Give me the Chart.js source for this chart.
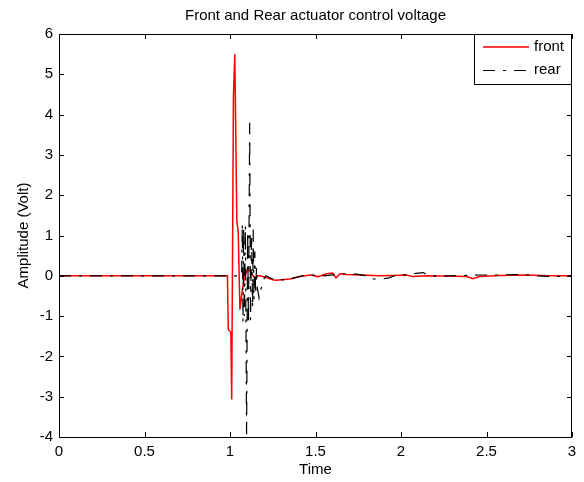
<!DOCTYPE html>
<html>
<head>
<meta charset="utf-8">
<script src="https://cdn.jsdelivr.net/npm/chart.js@4.4.1/dist/chart.umd.min.js"></script>
<style>
  html, body { margin: 0; padding: 0; background: #fff; }
  canvas { display: block; }
</style>
</head>
<body>
<canvas id="chart" width="584" height="482"></canvas>
<script>
// front actuator (red) - time / volts
const frontTime = [0, 0.985, 0.99, 1.005, 1.01, 1.02, 1.028, 1.04, 1.048, 1.058, 1.065, 1.075, 1.09, 1.105, 1.12, 1.135, 1.146, 1.16, 1.175,
  1.215, 1.25, 1.27, 1.35, 1.41, 1.47, 1.515, 1.565, 1.6, 1.62, 1.643, 1.68, 1.76, 1.877, 1.955, 2.03, 2.07, 2.15,
  2.385, 2.42, 2.46, 2.58, 2.735, 2.85, 3.0];
const frontVolt = [0, 0, -1.33, -1.4, -3.07, 4.45, 5.5, 1.35, 1.1, -0.84, -0.6, -0.26, 0.05, 0.16, 0.1, 0.0, -0.06, 0.0, 0.0,
  -0.05, -0.1, -0.11, -0.08, -0.02, 0.02, -0.02, 0.05, 0.07, -0.05, 0.05, 0.03, 0.02, 0.0, 0.01, 0.02, -0.02, 0.0,
  -0.02, -0.07, -0.02, 0.01, 0.02, 0.0, 0.0];

// rear actuator (black dash-dot)
const rearTime = [0, 1.068, 1.072, 1.076, 1.08, 1.084, 1.09, 1.097, 1.103, 1.108, 1.115, 1.12, 1.126, 1.132, 1.136, 1.14, 1.145, 1.15,
  1.155, 1.16, 1.17, 1.18, 1.195, 1.21, 1.25, 1.3, 1.35, 1.42, 1.5, 1.55, 1.66, 1.74, 1.8, 1.84, 1.89, 1.93, 1.96,
  2.03, 2.13, 2.16, 2.3, 2.48, 2.6, 2.7, 2.8, 2.9, 3.0];
const rearVolt = [0, 0, 1.3, -1.15, 1.2, -1.0, 1.25, -3.93, 1.1, -1.2, 3.8, -1.1, 1.0, -0.8, 1.15, -0.6, 0.6, -0.45,
  0.2, -0.3, -0.55, -0.35, -0.1, 0.0, -0.08, -0.1, -0.08, 0.0, 0.02, 0.0, 0.05, 0.04, 0.0, -0.08, -0.08, -0.05, 0.0,
  0.03, 0.08, 0.0, 0.0, 0.02, 0.02, 0.03, 0.0, -0.02, 0.0];

const xTicks = [0, 0.5, 1, 1.5, 2, 2.5, 3];
const yTicks = [-4, -3, -2, -1, 0, 1, 2, 3, 4, 5, 6];

const FONT = 'Arial, "Liberation Sans", sans-serif';
const DASHDOT = [12, 8, 3, 8];

const toPoints = (t, v) => t.map((x, i) => ({ x: x, y: v[i] }));

// matlab style box, inward ticks and legend inside the axes
const matlabAxes = {
  id: 'matlabAxes',
  afterDraw(chart) {
    const ctx = chart.ctx;
    const { left, right, top, bottom } = chart.chartArea;
    const xs = chart.scales.x, ys = chart.scales.y;
    ctx.save();
    ctx.strokeStyle = '#000';
    ctx.lineWidth = 1;
    ctx.strokeRect(Math.round(left) + 0.5, Math.round(top) + 0.5, Math.round(right - left) - 1, Math.round(bottom - top));
    ctx.beginPath();
    xTicks.forEach(v => {
      const px = Math.round(xs.getPixelForValue(v)) + 0.5;
      ctx.moveTo(px, bottom); ctx.lineTo(px, bottom - 5);
      ctx.moveTo(px, top); ctx.lineTo(px, top + 5);
    });
    yTicks.forEach(v => {
      const py = Math.round(ys.getPixelForValue(v)) + 0.5;
      ctx.moveTo(left, py); ctx.lineTo(left + 5, py);
      ctx.moveTo(right, py); ctx.lineTo(right - 5, py);
    });
    ctx.stroke();

    // legend
    const lx = 474.5, ly = 34.5, lw = right - 474 - 1, lh = 50;
    ctx.fillStyle = '#fff';
    ctx.fillRect(lx, ly, lw, lh);
    ctx.strokeStyle = '#000';
    ctx.strokeRect(lx, ly, lw, lh);

    ctx.beginPath();
    ctx.strokeStyle = '#ff0000';
    ctx.lineWidth = 1.5;
    ctx.moveTo(483, 47); ctx.lineTo(529, 47);
    ctx.stroke();

    ctx.beginPath();
    ctx.strokeStyle = '#000';
    ctx.lineWidth = 1.2;
    ctx.setLineDash(DASHDOT);
    ctx.moveTo(483, 70.5); ctx.lineTo(529, 70.5);
    ctx.stroke();
    ctx.setLineDash([]);

    ctx.fillStyle = '#000';
    ctx.font = '15px ' + FONT;
    ctx.textBaseline = 'middle';
    ctx.fillText('front', 534, 47);
    ctx.fillText('rear', 534, 70);
    ctx.restore();
  }
};

new Chart(document.getElementById('chart'), {
  type: 'line',
  data: {
    datasets: [
      {
        label: 'front',
        data: toPoints(frontTime, frontVolt),
        borderColor: '#ff0000',
        borderWidth: 1.5,
        pointRadius: 0,
        tension: 0,
        order: 2
      },
      {
        label: 'rear',
        data: toPoints(rearTime, rearVolt),
        borderColor: '#000',
        borderWidth: 1.2,
        borderDash: DASHDOT,
        pointRadius: 0,
        tension: 0,
        order: 1
      }
    ]
  },
  options: {
    responsive: false,
    animation: false,
    devicePixelRatio: 1,
    layout: { padding: { top: 0, right: 12, bottom: 0, left: 0 } },
    plugins: {
      legend: { display: false },
      tooltip: { enabled: false },
      title: {
        display: true,
        fullSize: false,
        text: 'Front and Rear actuator control voltage',
        color: '#000',
        font: { family: FONT, size: 15, weight: 'normal' },
        padding: { top: 7, bottom: 9 }
      }
    },
    scales: {
      x: {
        type: 'linear',
        min: 0,
        max: 3,
        afterFit: s => { s.height = 45; },
        afterBuildTicks: s => { s.ticks = xTicks.map(v => ({ value: v })); },
        grid: { display: false, drawTicks: false },
        border: { display: false },
        ticks: { color: '#000', padding: 6, maxRotation: 0, font: { family: FONT, size: 15 }, callback: v => String(v) },
        title: { display: true, text: 'Time', color: '#000', font: { family: FONT, size: 15 }, padding: { top: 0, bottom: 3 } }
      },
      y: {
        min: -4,
        max: 6,
        afterFit: s => { s.width = 59; },
        afterBuildTicks: s => { s.ticks = yTicks.map(v => ({ value: v })); },
        grid: { display: false, drawTicks: false },
        border: { display: false },
        ticks: { color: '#000', padding: 6, font: { family: FONT, size: 15 }, callback: v => String(v) },
        title: { display: true, text: 'Amplitude (Volt)', color: '#000', font: { family: FONT, size: 15 }, padding: { top: 15, bottom: 0 } }
      }
    }
  },
  plugins: [matlabAxes]
});
</script>
</body>
</html>
